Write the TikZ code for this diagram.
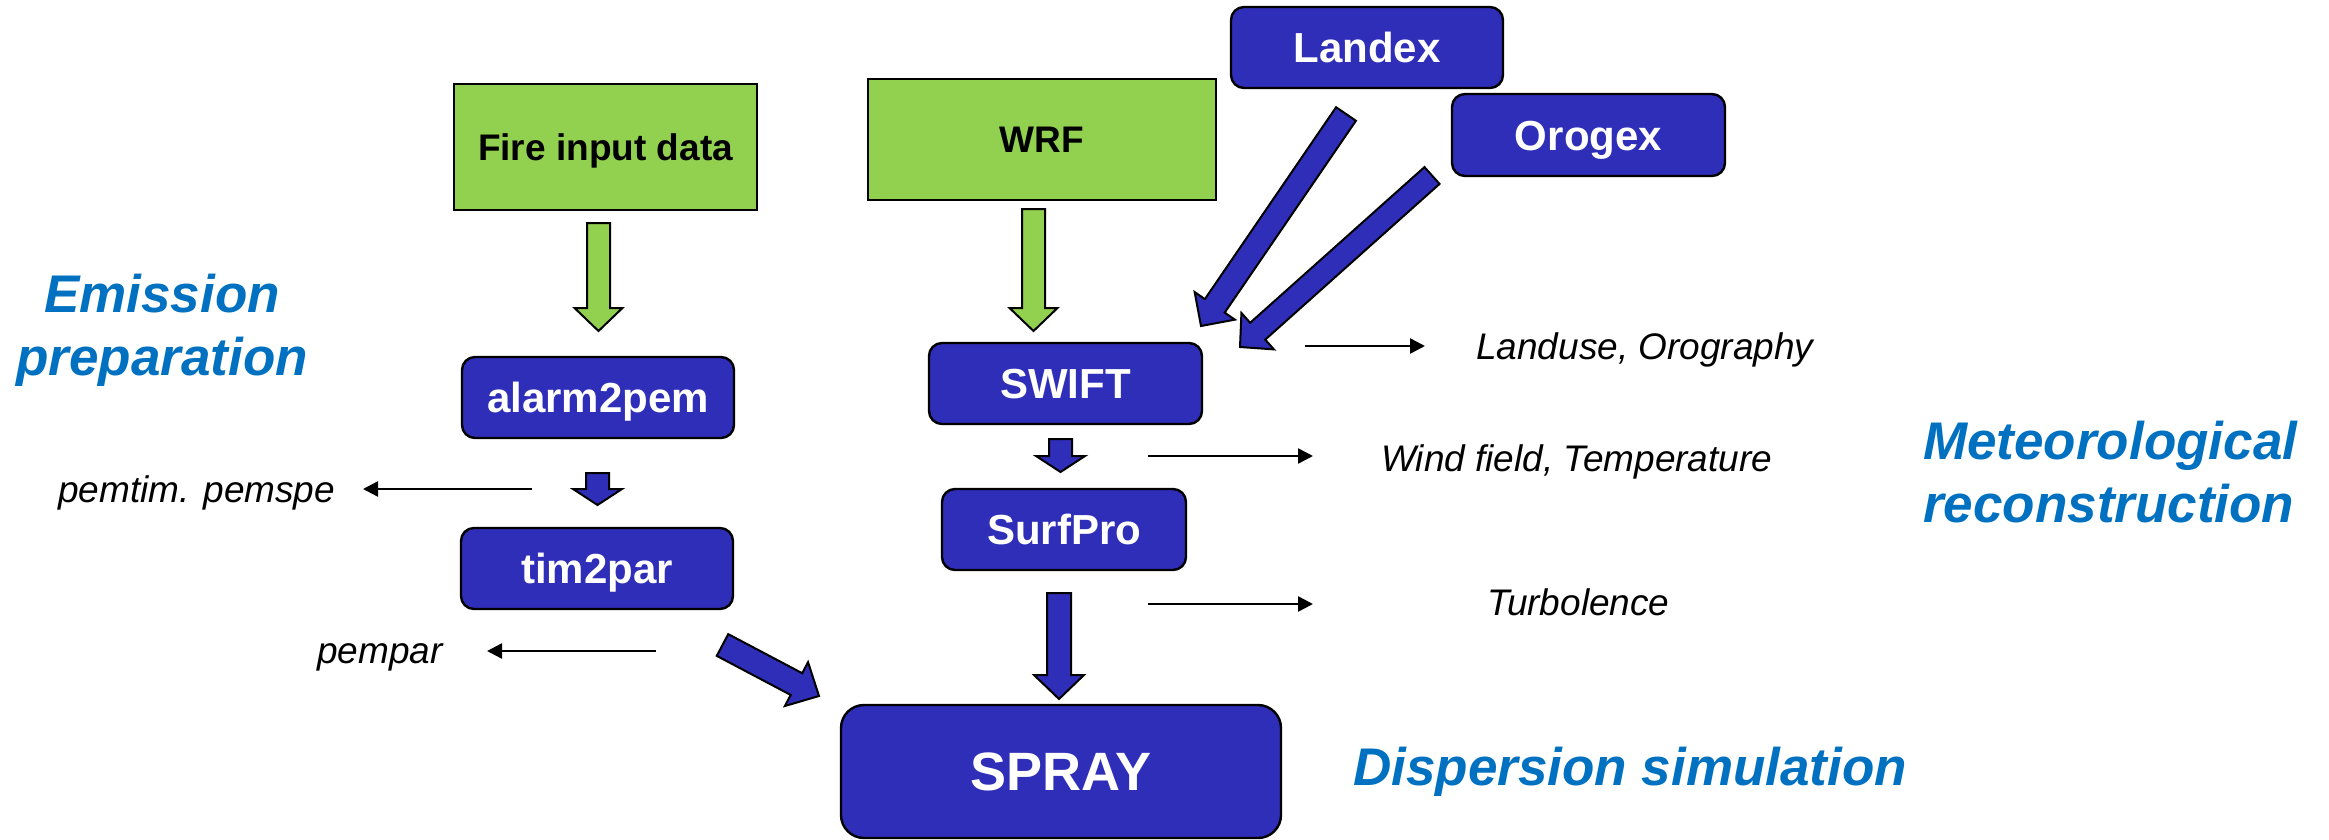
\documentclass[tikz,border=0pt]{standalone}
\usepackage{fontspec}
\setmainfont{Liberation Sans}
\usetikzlibrary{calc,arrows.meta}
\definecolor{boxblue}{RGB}{47,46,184}
\definecolor{boxgreen}{RGB}{146,208,80}
\definecolor{headblue}{RGB}{0,112,192}
% #1 tail, #2 tip, #3 shaft half width, #4 head half width, #5 head length, #6 style
\newcommand{\blockarrow}[6]{%
  \coordinate (bahead) at ($(#2)!#5!(#1)$);
  \filldraw[#6] ($(#1)!#3!90:(#2)$) -- ($(bahead)!#3!-90:(#1)$) -- ($(bahead)!#4!-90:(#1)$)
    -- (#2) -- ($(bahead)!#4!90:(#1)$) -- ($(bahead)!#3!90:(#1)$) -- ($(#1)!#3!-90:(#2)$) -- cycle;
}
\begin{document}
\begin{tikzpicture}[x=1pt,y=-1pt,
  bluebox/.style={draw=black, line width=2.4pt, fill=boxblue, rounded corners=13pt, inner sep=0pt,
    text=white, font=\bfseries\fontsize{42}{50}\selectfont, text height=30pt, text depth=0pt},
  greenbox/.style={draw=black, line width=2.2pt, fill=boxgreen, inner sep=0pt,
    font=\bfseries\fontsize{37}{44}\selectfont, text height=26.5pt, text depth=0pt},
  heading/.style={text=headblue, font=\bfseries\itshape\fontsize{53}{63}\selectfont, inner sep=0pt},
  outlabel/.style={font=\itshape\fontsize{37}{44}\selectfont, inner sep=0pt, anchor=base west},
  thinarrow/.style={line width=2.5pt, -{Triangle[length=15pt,width=15pt]}},
  bluearrow/.style={draw=black, line width=2pt, fill=boxblue, line join=miter},
  greenarrow/.style={draw=black, line width=2pt, fill=boxgreen, line join=miter},
]
\useasboundingbox (0,0) rectangle (2329,840);

% boxes
\node[greenbox, minimum width=303pt, minimum height=126pt] (fire) at (605.5,147) {Fire input data};
\node[greenbox, minimum width=348pt, minimum height=121pt] (wrf) at (1042,139.5) {WRF};
\node[bluebox, minimum width=272pt, minimum height=81pt] (landex) at (1367,47.5) {Landex};
\node[bluebox, minimum width=273pt, minimum height=82pt] (orogex) at (1588.5,135) {Orogex};
\node[bluebox, minimum width=272pt, minimum height=81pt] (alarm) at (598,397.5) {alarm2pem};
\node[bluebox, minimum width=272pt, minimum height=81pt] (tim) at (597,568.5) {tim2par};
\node[bluebox, minimum width=273pt, minimum height=81pt] (swift) at (1065.5,383.5) {SWIFT};
\node[bluebox, minimum width=244pt, minimum height=81pt] (surfpro) at (1064,529.5) {SurfPro};
\node[bluebox, minimum width=440pt, minimum height=133pt, rounded corners=23pt,
  font=\bfseries\fontsize{54}{60}\selectfont, text height=38.7pt] (spray) at (1061,771.5) {SPRAY};

% headings (base = baseline of last line)
\node[heading, align=center, anchor=base] (emis) at (162,375) {Emission\\preparation};
\node[heading, align=left, anchor=base west] (meteo) at (1923,522) {Meteorological\\reconstruction};
\node[heading, anchor=base west] (disp) at (1353,785) {Dispersion simulation};

% output labels
\node[outlabel] (pemtim) at (58,502) {pemtim. pemspe};
\node[outlabel] (pempar) at (317,663) {pempar};
\node[outlabel] (landuse) at (1476,359) {Landuse, Orography};
\node[outlabel] (wind) at (1381,471) {Wind field, Temperature};
\node[outlabel] (turbo) at (1487,615) {Turbolence};

% block arrow end points
\coordinate (g1a) at (598.5,223);  \coordinate (g1b) at (598.5,331);
\coordinate (g2a) at (1033.5,209); \coordinate (g2b) at (1033.5,331);
\coordinate (s1a) at (597.5,473);  \coordinate (s1b) at (597.5,505);
\coordinate (s2a) at (1060.5,439); \coordinate (s2b) at (1060.5,472);
\coordinate (s3a) at (1059,593);   \coordinate (s3b) at (1059,699);
\coordinate (dga) at (722.5,645);  \coordinate (dgb) at (819,696);
\coordinate (lxa) at (1346,114);   \coordinate (lxb) at (1201,326);
\coordinate (oxa) at (1432,175.5); \coordinate (oxb) at (1240,347);

\blockarrow{g1a}{g1b}{11.5pt}{24pt}{23pt}{greenarrow}
\blockarrow{g2a}{g2b}{11.5pt}{24pt}{23pt}{greenarrow}
\blockarrow{s1a}{s1b}{11.5pt}{24.5pt}{16pt}{bluearrow}
\blockarrow{s2a}{s2b}{11.5pt}{24.5pt}{16pt}{bluearrow}
\blockarrow{s3a}{s3b}{12pt}{25pt}{24pt}{bluearrow}
\blockarrow{dga}{dgb}{12.3pt}{24.8pt}{25.5pt}{bluearrow}
\blockarrow{lxa}{lxb}{12pt}{24.4pt}{24.4pt}{bluearrow}
\blockarrow{oxa}{oxb}{11.3pt}{24.4pt}{23.7pt}{bluearrow}

% thin arrows
\coordinate (t1a) at (532,489);  \coordinate (t1b) at (363,489);
\coordinate (t2a) at (656,651);  \coordinate (t2b) at (487,651);
\coordinate (t3a) at (1305,346); \coordinate (t3b) at (1425,346);
\coordinate (t4a) at (1148,456); \coordinate (t4b) at (1313,456);
\coordinate (t5a) at (1148,604); \coordinate (t5b) at (1313,604);
\draw[thinarrow] (t1a) -- (t1b);
\draw[thinarrow] (t2a) -- (t2b);
\draw[thinarrow] (t3a) -- (t3b);
\draw[thinarrow] (t4a) -- (t4b);
\draw[thinarrow] (t5a) -- (t5b);
\end{tikzpicture}
\end{document}
